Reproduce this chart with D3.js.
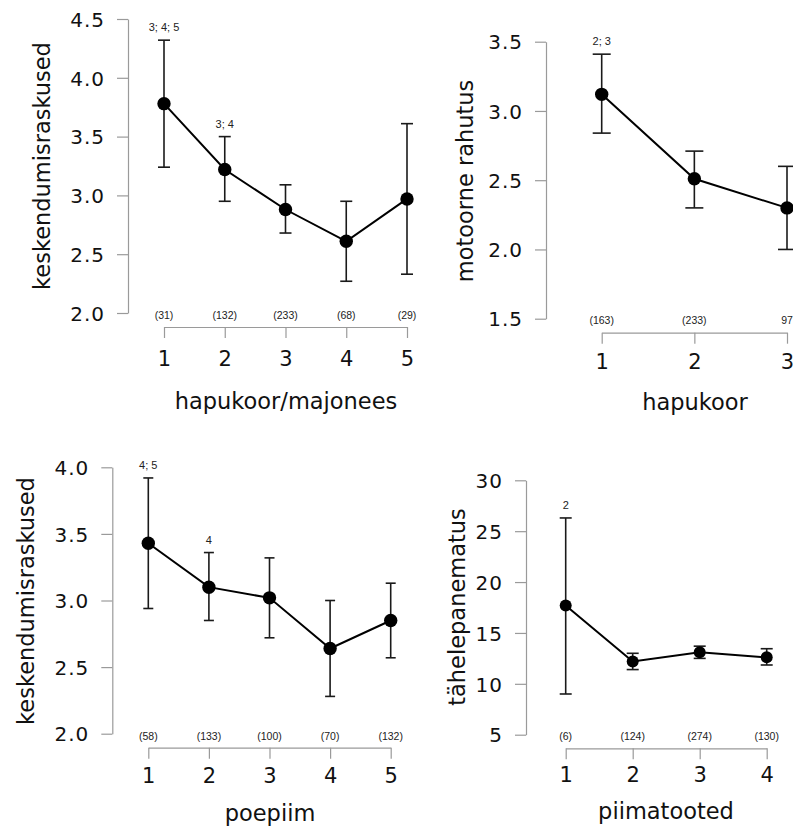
<!DOCTYPE html>
<html>
<head>
<meta charset="utf-8">
<script src="https://cdn.jsdelivr.net/npm/d3@7"></script>
<style>
  html, body { margin: 0; padding: 0; background: #fff; }
  svg { display: block; }
</style>
</head>
<body>
<svg id="chart" width="793" height="827"></svg>
<script>
// ---------- DATA ----------
// Panel 1: keskendumisraskused vs hapukoor/majonees
const p1Categories = ["1", "2", "3", "4", "5"];
const p1Means  = [3.78, 3.22, 2.88, 2.61, 2.97];
const p1Upper  = [4.32, 3.50, 3.09, 2.95, 3.61];
const p1Lower  = [3.24, 2.95, 2.68, 2.27, 2.33];
const p1Counts = ["(31)", "(132)", "(233)", "(68)", "(29)"];
const p1Notes  = ["3; 4; 5", "3; 4", "", "", ""];
const p1YTicks = [2.0, 2.5, 3.0, 3.5, 4.0, 4.5];
const p1YTitle = "keskendumisraskused";
const p1XTitle = "hapukoor/majonees";

// Panel 2: motoorne rahutus vs hapukoor
const p2Categories = ["1", "2", "3"];
const p2Means  = [3.12, 2.51, 2.30];
const p2Upper  = [3.41, 2.71, 2.60];
const p2Lower  = [2.84, 2.30, 2.00];
const p2Counts = ["(163)", "(233)", "97"];
const p2Notes  = ["2; 3", "", ""];
const p2YTicks = [1.5, 2.0, 2.5, 3.0, 3.5];
const p2YTitle = "motoorne rahutus";
const p2XTitle = "hapukoor";

// Panel 3: keskendumisraskused vs poepiim
const p3Categories = ["1", "2", "3", "4", "5"];
const p3Means  = [3.43, 3.10, 3.02, 2.64, 2.85];
const p3Upper  = [3.92, 3.36, 3.32, 3.00, 3.13];
const p3Lower  = [2.94, 2.85, 2.72, 2.28, 2.57];
const p3Counts = ["(58)", "(133)", "(100)", "(70)", "(132)"];
const p3Notes  = ["4; 5", "4", "", "", ""];
const p3YTicks = [2.0, 2.5, 3.0, 3.5, 4.0];
const p3YTitle = "keskendumisraskused";
const p3XTitle = "poepiim";

// Panel 4: tähelepanematus vs piimatooted
const p4Categories = ["1", "2", "3", "4"];
const p4Means  = [17.7, 12.2, 13.1, 12.6];
const p4Upper  = [26.3, 13.0, 13.7, 13.45];
const p4Lower  = [9.0, 11.4, 12.5, 11.85];
const p4Counts = ["(6)", "(124)", "(274)", "(130)"];
const p4Notes  = ["2", "", "", ""];
const p4YTicks = [5, 10, 15, 20, 25, 30];
const p4YTitle = "tähelepanematus";
const p4XTitle = "piimatooted";

// ---------- DRAWING ----------
const svg = d3.select("#chart");
const AXIS_COLOR = "#9a9a9a";
const INK = "#111";
const BIG_FONT = "'DejaVu Sans', Verdana, sans-serif";
const SMALL_FONT = "'Liberation Sans', Arial, Helvetica, sans-serif";

function drawPanel(o) {
  const g = svg.append("g");
  const y = d3.scaleLinear().domain(o.yDomain).range(o.yRange);
  const x = d3.scalePoint().domain(o.categories).range(o.xRange).padding(0);
  const idx = o.categories.map((c, i) => i);

  // y axis
  const yAxis = d3.axisLeft(y).tickValues(o.yTicks).tickFormat(d3.format(o.yFormat))
    .tickSize(11).tickSizeOuter(0).tickPadding(12);
  const ya = g.append("g").attr("transform", `translate(${o.yAxisX},0)`).call(yAxis);
  ya.select(".domain").attr("stroke", AXIS_COLOR).attr("stroke-width", 1.2);
  ya.selectAll(".tick line").attr("stroke", AXIS_COLOR).attr("stroke-width", 1.2);
  ya.selectAll(".tick text").attr("fill", INK).attr("font-family", BIG_FONT)
    .attr("font-size", 20).attr("letter-spacing", "1px").attr("dy", "0.36em");

  // x axis
  const xAxis = d3.axisBottom(x).tickSize(11).tickSizeOuter(0);
  const xa = g.append("g").attr("transform", `translate(0,${o.xAxisY})`).call(xAxis);
  xa.select(".domain").attr("stroke", AXIS_COLOR).attr("stroke-width", 1.2);
  xa.selectAll(".tick line").attr("stroke", AXIS_COLOR).attr("stroke-width", 1.2);
  xa.selectAll(".tick text").attr("fill", INK).attr("font-family", BIG_FONT)
    .attr("font-size", 21).attr("dy", null).attr("y", o.xLabelBaseline - o.xAxisY);

  // counts above x axis
  g.selectAll(".count").data(idx).join("text")
    .attr("x", i => x(o.categories[i]))
    .attr("y", o.countBaseline)
    .attr("text-anchor", "middle")
    .attr("font-family", SMALL_FONT).attr("font-size", 10.5).attr("fill", "#222")
    .text(i => o.counts[i]);

  // error bars
  const eb = g.selectAll(".eb").data(idx).join("g").attr("stroke", "#1a1a1a").attr("stroke-width", 1.6);
  eb.append("line")
    .attr("x1", i => x(o.categories[i])).attr("x2", i => x(o.categories[i]))
    .attr("y1", i => y(o.upper[i])).attr("y2", i => y(o.lower[i]));
  eb.append("line")
    .attr("x1", i => x(o.categories[i]) - o.cap).attr("x2", i => x(o.categories[i]) + o.cap)
    .attr("y1", i => y(o.upper[i])).attr("y2", i => y(o.upper[i]));
  eb.append("line")
    .attr("x1", i => x(o.categories[i]) - o.cap).attr("x2", i => x(o.categories[i]) + o.cap)
    .attr("y1", i => y(o.lower[i])).attr("y2", i => y(o.lower[i]));

  // connecting line
  const line = d3.line().x(i => x(o.categories[i])).y(i => y(o.means[i]));
  g.append("path").datum(idx).attr("d", line)
    .attr("fill", "none").attr("stroke", "#000").attr("stroke-width", 2);

  // points
  g.selectAll(".pt").data(idx).join("circle")
    .attr("cx", i => x(o.categories[i])).attr("cy", i => y(o.means[i]))
    .attr("r", o.r).attr("fill", "#000");

  // significance notes
  g.selectAll(".note").data(idx.filter(i => o.notes[i])).join("text")
    .attr("x", i => x(o.categories[i]))
    .attr("y", i => y(o.upper[i]) - 9)
    .attr("text-anchor", "middle")
    .attr("font-family", SMALL_FONT).attr("font-size", 11).attr("fill", "#222")
    .text(i => o.notes[i]);

  // y title
  g.append("text")
    .attr("transform", `translate(${o.yTitleX},${o.yTitleY}) rotate(-90)`)
    .attr("text-anchor", "middle")
    .attr("font-family", BIG_FONT).attr("font-size", 22.5).attr("fill", INK)
    .text(o.yTitle);

  // x title
  g.append("text")
    .attr("x", o.xTitleX).attr("y", o.xTitleBaseline)
    .attr("text-anchor", "middle")
    .attr("font-family", BIG_FONT).attr("font-size", 22.5).attr("fill", INK)
    .text(o.xTitle);
}

drawPanel({
  categories: p1Categories, means: p1Means, upper: p1Upper, lower: p1Lower,
  counts: p1Counts, notes: p1Notes, yTicks: p1YTicks, yFormat: ".1f",
  yTitle: p1YTitle, xTitle: p1XTitle,
  yDomain: [2.0, 4.5], yRange: [313, 19], xRange: [164, 407],
  yAxisX: 128, xAxisY: 327, xLabelBaseline: 366, countBaseline: 319,
  yTitleX: 50, yTitleY: 166, xTitleX: 286, xTitleBaseline: 409,
  cap: 6, r: 6.7
});

drawPanel({
  categories: p2Categories, means: p2Means, upper: p2Upper, lower: p2Lower,
  counts: p2Counts, notes: p2Notes, yTicks: p2YTicks, yFormat: ".1f",
  yTitle: p2YTitle, xTitle: p2XTitle,
  yDomain: [1.5, 3.5], yRange: [318.7, 41.7], xRange: [601.7, 787],
  yAxisX: 546, xAxisY: 332.7, xLabelBaseline: 369, countBaseline: 324,
  yTitleX: 473, yTitleY: 181, xTitleX: 695, xTitleBaseline: 410,
  cap: 9, r: 6.7
});

drawPanel({
  categories: p3Categories, means: p3Means, upper: p3Upper, lower: p3Lower,
  counts: p3Counts, notes: p3Notes, yTicks: p3YTicks, yFormat: ".1f",
  yTitle: p3YTitle, xTitle: p3XTitle,
  yDomain: [2.0, 4.0], yRange: [733.7, 467.3], xRange: [148.3, 390.7],
  yAxisX: 112.3, xAxisY: 747.7, xLabelBaseline: 783, countBaseline: 740,
  yTitleX: 34, yTitleY: 601, xTitleX: 270, xTitleBaseline: 821,
  cap: 5, r: 6.7
});

drawPanel({
  categories: p4Categories, means: p4Means, upper: p4Upper, lower: p4Lower,
  counts: p4Counts, notes: p4Notes, yTicks: p4YTicks, yFormat: "d",
  yTitle: p4YTitle, xTitle: p4XTitle,
  yDomain: [5, 30], yRange: [734.7, 480.3], xRange: [565.7, 766.7],
  yAxisX: 526, xAxisY: 748.3, xLabelBaseline: 782, countBaseline: 740,
  yTitleX: 465, yTitleY: 607, xTitleX: 666, xTitleBaseline: 819,
  cap: 6, r: 6
});
</script>
</body>
</html>
